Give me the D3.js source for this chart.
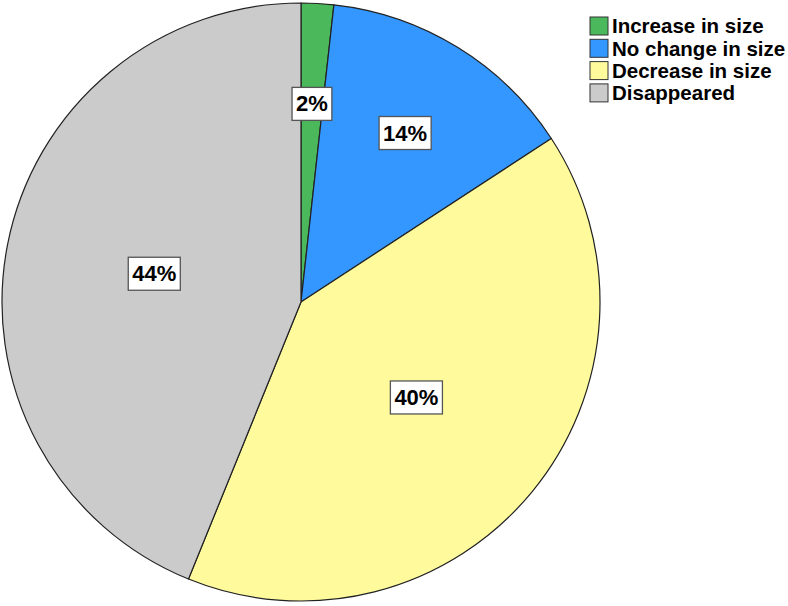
<!DOCTYPE html>
<html>
<head>
<meta charset="utf-8">
<script src="https://cdn.jsdelivr.net/npm/d3@7"></script>
<style>
body { margin: 0; background: #fff; }
text { font-family: "Liberation Sans", Arial, sans-serif; font-weight: bold; }
</style>
</head>
<body>
<script>
var categories = ["Increase in size", "No change in size", "Decrease in size", "Disappeared"];
var counts = [1, 8, 23, 25];
var colors = ["#4cb85c", "#3397ff", "#fffb9c", "#cbcbcb"];

var width = 788;
var height = 606;
var cx = 301, cy = 302, radius = 299;

var svg = d3.select("body")
    .append("svg")
    .attr("width", width)
    .attr("height", height);

var total = d3.sum(counts);
var pie = d3.pie().sort(null);
var piedata = pie(counts);

var arc = d3.arc()
    .innerRadius(0)
    .outerRadius(radius);

var g = svg.append("g")
    .attr("transform", "translate(" + cx + "," + cy + ")");

g.selectAll("path")
    .data(piedata)
    .enter()
    .append("path")
    .attr("fill", function(d, i) { return colors[i]; })
    .attr("stroke", "#222")
    .attr("stroke-width", 1.2)
    .attr("stroke-linejoin", "round")
    .attr("d", arc);

// small slices get their label further out
function labelPos(d) {
    var a = (d.startAngle + d.endAngle) / 2;
    var r = (d.endAngle - d.startAngle) < Math.PI / 2 ? 0.665 * radius : 0.5 * radius;
    return [Math.sin(a) * r, -Math.cos(a) * r];
}

var labels = g.selectAll(".lbl")
    .data(piedata)
    .enter()
    .append("g")
    .attr("class", "lbl")
    .attr("transform", function(d) { return "translate(" + labelPos(d) + ")"; });

labels.append("text")
    .attr("text-anchor", "middle")
    .attr("dy", "0.36em")
    .style("font-size", "22px")
    .text(function(d) { return Math.round(d.data / total * 100) + "%"; });

labels.each(function() {
    var grp = d3.select(this);
    var bb = grp.select("text").node().getBBox();
    grp.insert("rect", "text")
        .attr("x", bb.x - 4)
        .attr("y", bb.y - 4)
        .attr("width", bb.width + 8)
        .attr("height", bb.height + 8)
        .attr("fill", "#fff")
        .attr("stroke", "#555")
        .attr("stroke-width", 1.3);
});

var legend = svg.selectAll(".legend")
    .data(categories)
    .enter()
    .append("g")
    .attr("class", "legend")
    .attr("transform", function(d, i) { return "translate(590," + (17 + i * 22.3) + ")"; });

legend.append("rect")
    .attr("width", 18)
    .attr("height", 18)
    .attr("fill", function(d, i) { return colors[i]; })
    .attr("stroke", "#333")
    .attr("stroke-width", 1);

legend.append("text")
    .attr("x", 22)
    .attr("y", 9)
    .attr("dy", "0.36em")
    .style("font-size", "20.5px")
    .text(function(d) { return d; });
</script>
</body>
</html>
